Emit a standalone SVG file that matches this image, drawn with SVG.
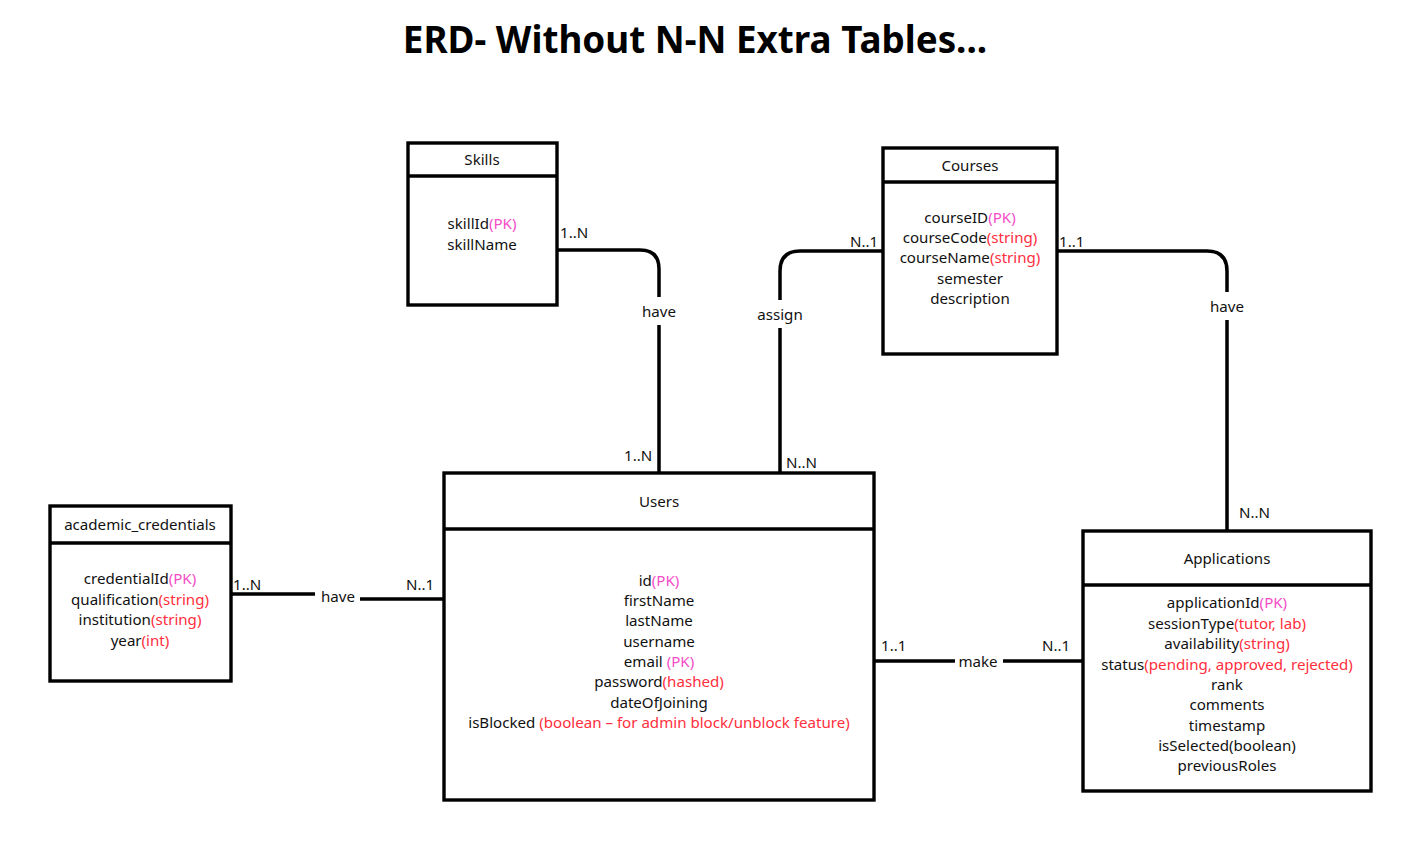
<svg xmlns="http://www.w3.org/2000/svg" width="1424" height="858" viewBox="0 0 1424 858">
<defs>
<style>
text{font-family:"Noto Sans","Open Sans","Liberation Sans",sans-serif;font-size:15.1px;fill:#111;}
.c{text-anchor:middle;}
.title{font-size:36.8px;font-weight:bold;fill:#000;}
.pk{fill:#f54dc8;}
.r{fill:#ff2e3c;}
.box{fill:#fff;stroke:#000;stroke-width:3.4;}
.div{stroke:#000;stroke-width:3.4;}
.ln{fill:none;stroke:#000;stroke-width:3.5;}
</style>
</defs>
<rect width="1424" height="858" fill="#fff"/>
<text class="title c" x="695" y="53">ERD- Without N-N Extra Tables...</text>

<g id="connectors">
  <path class="ln" d="M557,250 H640 Q659,250 659,269 V297 M659,325 V473"/>
  <path class="ln" d="M883,251 H800 Q780,251 780,271 V300 M780,328 V473"/>
  <path class="ln" d="M1057,251 H1207 Q1227,251 1227,271 V292 M1227,320 V531"/>
  <path class="ln" d="M231,594 H315 M360,599 H444"/>
  <path class="ln" d="M874,661 H955 M1003,661 H1083"/>
  <text x="560" y="238">1..N</text>
  <text class="c" x="659" y="317">have</text>
  <text x="624" y="461">1..N</text>
  <text x="850" y="247">N..1</text>
  <text class="c" x="780" y="320">assign</text>
  <text x="786" y="468">N..N</text>
  <text x="1059" y="247">1..1</text>
  <text class="c" x="1227" y="312">have</text>
  <text x="1239" y="518">N..N</text>
  <text x="233" y="590">1..N</text>
  <text class="c" x="338" y="602">have</text>
  <text x="406" y="590">N..1</text>
  <text x="881" y="651">1..1</text>
  <text class="c" x="978" y="667">make</text>
  <text x="1042" y="651">N..1</text>
</g>

<g id="skills">
  <rect class="box" x="408" y="143" width="149" height="162"/>
  <line class="div" x1="408" y1="176" x2="557" y2="176"/>
  <text class="c" x="482" y="165">Skills</text>
  <text class="c" x="482" y="229">skillId<tspan class="pk">(PK)</tspan></text>
  <text class="c" x="482" y="250">skillName</text>
</g>

<g id="courses">
  <rect class="box" x="883" y="148" width="174" height="206"/>
  <line class="div" x1="883" y1="182" x2="1057" y2="182"/>
  <text class="c" x="970" y="171">Courses</text>
  <text class="c" x="970" y="223">courseID<tspan class="pk">(PK)</tspan></text>
  <text class="c" x="970" y="243">courseCode<tspan class="r">(string)</tspan></text>
  <text class="c" x="970" y="263">courseName<tspan class="r">(string)</tspan></text>
  <text class="c" x="970" y="284">semester</text>
  <text class="c" x="970" y="304">description</text>
</g>

<g id="academic_credentials">
  <rect class="box" x="50" y="506" width="181" height="175"/>
  <line class="div" x1="50" y1="543" x2="231" y2="543"/>
  <text class="c" x="140" y="530">academic_credentials</text>
  <text class="c" x="140" y="584">credentialId<tspan class="pk">(PK)</tspan></text>
  <text class="c" x="140" y="605">qualification<tspan class="r">(string)</tspan></text>
  <text class="c" x="140" y="625">institution<tspan class="r">(string)</tspan></text>
  <text class="c" x="140" y="646">year<tspan class="r">(int)</tspan></text>
</g>

<g id="users">
  <rect class="box" x="444" y="473" width="430" height="327"/>
  <line class="div" x1="444" y1="529" x2="874" y2="529"/>
  <text class="c" x="659" y="507">Users</text>
  <text class="c" x="659" y="586">id<tspan class="pk">(PK)</tspan></text>
  <text class="c" x="659" y="606">firstName</text>
  <text class="c" x="659" y="626">lastName</text>
  <text class="c" x="659" y="647">username</text>
  <text class="c" x="659" y="667">email <tspan class="pk">(PK)</tspan></text>
  <text class="c" x="659" y="687">password<tspan class="r">(hashed)</tspan></text>
  <text class="c" x="659" y="708">dateOfJoining</text>
  <text class="c" x="659" y="728">isBlocked <tspan class="r">(boolean – for admin block/unblock feature)</tspan></text>
</g>

<g id="applications">
  <rect class="box" x="1083" y="531" width="288" height="260"/>
  <line class="div" x1="1083" y1="585" x2="1371" y2="585"/>
  <text class="c" x="1227" y="564">Applications</text>
  <text class="c" x="1227" y="608">applicationId<tspan class="pk">(PK)</tspan></text>
  <text class="c" x="1227" y="629">sessionType<tspan class="r">(tutor, lab)</tspan></text>
  <text class="c" x="1227" y="649">availability<tspan class="r">(string)</tspan></text>
  <text class="c" x="1227" y="670">status<tspan class="r">(pending, approved, rejected)</tspan></text>
  <text class="c" x="1227" y="690">rank</text>
  <text class="c" x="1227" y="710">comments</text>
  <text class="c" x="1227" y="731">timestamp</text>
  <text class="c" x="1227" y="751">isSelected(boolean)</text>
  <text class="c" x="1227" y="771">previousRoles</text>
</g>
</svg>
